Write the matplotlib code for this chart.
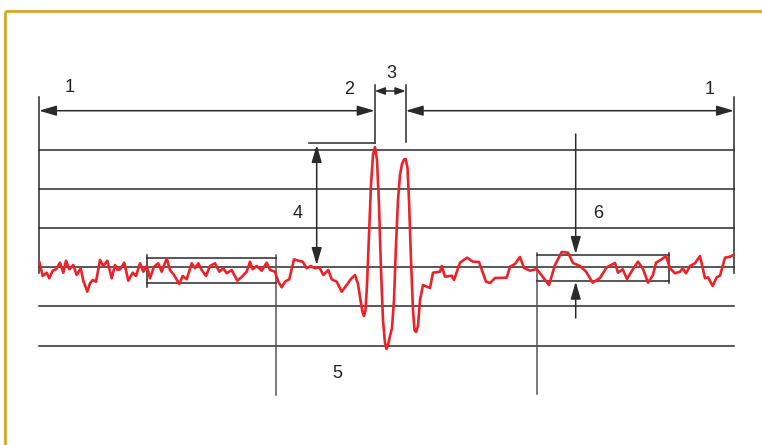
import matplotlib
matplotlib.use("Agg")
import matplotlib.pyplot as plt

# ---- data (diagram coordinates, pixel-like units, y downwards) ----
# red trace as (x, y) pairs
trace_points = [
    (39.3, 261.7), (42.7, 276), (46.7, 272.7), (49.3, 278.3), (52.7, 270.7), (56, 269.3), (60, 262.7),
    (63.3, 272.7), (66, 260.7), (69.3, 269.3), (73.3, 265), (76.7, 275), (80.7, 268.3), (83.3, 280.7),
    (87.3, 291.7), (90, 283.3), (92.7, 280), (96, 281.7), (100, 260), (103.3, 266), (107.3, 260.7),
    (111.7, 278.3), (115, 265), (117.7, 270), (120, 269.3), (124.3, 262.7), (128.3, 280.7), (132.7, 272.7),
    (136, 276), (140, 263.3), (143.3, 271.7), (146.7, 266), (150, 278.3), (154, 266.7), (158.3, 263.3),
    (161.7, 271.7), (166.7, 258.3), (170, 270), (174, 275), (179.3, 284), (182.7, 276), (186.7, 279.3),
    (191.7, 263.3), (195, 268.3), (198.3, 263.3), (201.7, 270), (206, 276), (210, 266), (215, 263.3),
    (219.3, 271.7), (223.3, 268.3), (226.7, 273.3), (231.7, 270), (237.3, 280.7), (242.7, 276),
    (246.7, 271.7), (250, 261.7), (252.7, 269.3), (256.7, 266), (261.7, 270.7), (266.7, 262.7), (270, 270),
    (275, 271.7), (278.3, 281.7), (281.7, 287.3), (285, 281.7), (289.3, 279.3), (294, 259.3), (298.3, 260.7),
    (302.7, 261.7), (306.7, 268.3), (310.7, 266), (315, 268.3), (319.3, 267.3), (323.3, 275), (328.3, 270),
    (331.7, 279.3), (336.7, 281.7), (341.7, 291.7), (346.7, 285), (350.7, 279.3), (355, 275),
    (358, 284), (360.5, 300), (362.5, 312), (364, 316), (365.5, 310), (367, 285), (369, 235), (371, 185),
    (373, 155), (375, 147), (377, 160), (379, 205), (381, 270), (383, 320), (385, 343), (386.5, 349),
    (388, 345), (390, 336), (392, 328), (394, 300), (396, 245), (398, 200), (400, 175), (402, 164),
    (404, 159.5), (405.7, 159), (407.5, 168), (409, 200), (411, 260), (413, 310), (414.5, 330), (416, 332),
    (418, 326), (420, 300), (423, 285),
    (430, 288), (433, 272.7), (440, 271.7), (441.7, 266), (445, 276.7), (451.7, 275.7), (454, 280),
    (460, 262.7), (467, 257.7), (473, 261.7), (479, 262), (486, 281.7), (490, 283), (495, 278),
    (506.7, 277.7), (510, 266.7), (515, 264), (520, 257), (524, 268), (530, 270.7), (536.7, 269),
    (542.7, 276.7), (549, 285), (555, 265), (561.7, 252), (568, 252.7), (573, 263), (580, 266),
    (586, 271.7), (592.7, 282.7), (600, 278), (606.7, 267.3), (615, 263), (618, 272.7), (622.7, 269.3),
    (627, 279), (633, 269), (638, 261.7), (643, 269), (648, 282.7), (653, 275), (656, 262.7),
    (661.7, 259.3), (666, 256), (670, 268.3), (675, 273.3), (680, 271.7), (682.7, 268.3), (686, 273.3),
    (690, 266), (695, 263.3), (700, 256), (705, 278.3), (708, 277.3), (712.7, 286), (716.7, 277.3),
    (720, 275.7), (725, 257.7), (730, 256.7), (733.3, 255),
]
trace_x = [p[0] for p in trace_points]
trace_y = [p[1] for p in trace_points]

grid_y = [150, 189, 228, 267, 306, 345.5]
labels = ["1", "2", "3", "1", "4", "5", "6"]
label_x = [70, 349, 391, 710, 298, 337, 598]
label_y = [88, 90, 73, 89, 213, 373, 213]

W, H = 762, 445
fig = plt.figure(figsize=(W / 100, H / 100), dpi=100)
ax = fig.add_axes([0, 0, 1, 1])
ax.set_xlim(0, W)
ax.set_ylim(H, 0)
ax.axis("off")

LC = "#2a2a2a"
LW = 1.1

# gold frame
gold = "#D8A62A"
ax.plot([4.5, W + 2], [10.5, 10.5], color=gold, lw=2.0, solid_capstyle="butt")
ax.plot([4.5, 4.5], [10.5, H + 2], color=gold, lw=2.0, solid_capstyle="butt")

# horizontal grid lines
for gy in grid_y:
    ax.plot([39, 734], [gy, gy], color=LC, lw=LW)

def vline(x, y0, y1, c=LC, lw=LW):
    ax.plot([x, x], [y0, y1], color=c, lw=lw)

def hline(y, x0, x1, c=LC, lw=LW):
    ax.plot([x0, x1], [y, y], color=c, lw=lw)

# outer verticals
vline(39, 97, 273)
vline(734, 97, 273)
# markers 2 and 3
vline(374.7, 85, 143)
hline(143, 309, 374.7)
vline(405.7, 85, 142)
# marker 5 verticals
vline(275.7, 255, 395, c="#555555")
vline(536.7, 252.7, 394, c="#555555")
# left box
hline(258.3, 146.7, 275.7)
hline(283.3, 146.7, 275.7)
vline(146.7, 255, 286.7)
# right box
hline(255, 536.7, 668.7)
hline(280.7, 536.7, 668.7)
vline(668.7, 252.7, 283)

def arrow(p_from, p_to, style, ms=14):
    ax.annotate("", xy=p_to, xytext=p_from,
                arrowprops=dict(arrowstyle=style, color=LC, lw=LW,
                                shrinkA=0, shrinkB=0, mutation_scale=ms))

st = "<|-|>,head_length=0.75,head_width=0.22"
arrow((39, 110.7), (374.7, 110.7), st)
arrow((405.7, 110.7), (734, 110.7), st)
arrow((374.7, 91), (405.7, 91), "<|-|>,head_length=0.55,head_width=0.2", ms=11)
arrow((316.7, 145), (316.7, 265), st)
arrow((575.7, 134), (575.7, 254), "-|>,head_length=0.75,head_width=0.22")
arrow((575.7, 318), (575.7, 281.7), "-|>,head_length=0.75,head_width=0.22")

# red trace
ax.plot(trace_x, trace_y, color="#EC2229", lw=1.9, solid_joinstyle="round",
        solid_capstyle="round", zorder=5)

for t, x, y in zip(labels, label_x, label_y):
    ax.text(x, y, t, fontsize=13, family="Liberation Sans", color="#222222",
            ha="center", va="center")

fig.savefig("out.png", dpi=100)
